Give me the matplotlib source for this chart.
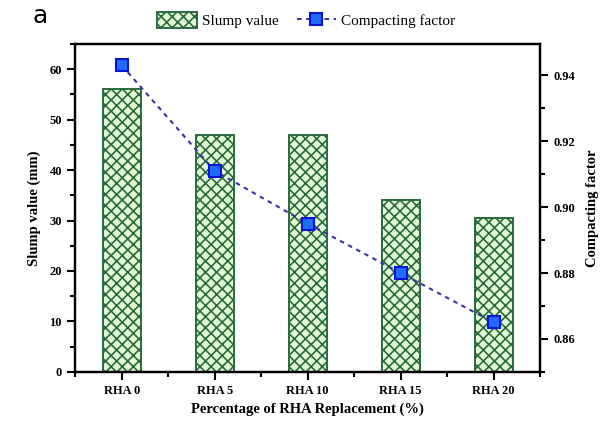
import matplotlib.pyplot as plt
import numpy as np
from matplotlib.ticker import MultipleLocator

plt.rcParams['font.family'] = ['Liberation Serif', 'DejaVu Serif']
plt.rcParams['hatch.linewidth'] = 1.2

# mix labels and measured values
mixes = ['RHA 0', 'RHA 5', 'RHA 10', 'RHA 15', 'RHA 20']
slump = [56, 47, 47, 34, 30.5]
compacting = [0.943, 0.911, 0.895, 0.880, 0.865]

x = np.arange(len(mixes))

fig = plt.figure(figsize=(6.16, 4.30), dpi=100)
ax = fig.add_axes([0.122, 0.135, 0.755, 0.763])
ax2 = ax.twinx()

plt.rcParams['hatch.color'] = '#3c8f50'
bars = ax.bar(x, slump, width=0.41, color='#e2fad2', edgecolor='#2a6a40',
              linewidth=1.4, hatch='xxx', label='Slump value', zorder=2)

line, = ax2.plot(x, compacting, linestyle=(0, (2.2, 2.2)), color='#3535a8',
                 linewidth=1.5, marker='s', markersize=9,
                 markerfacecolor='#1e6bff', markeredgecolor='#0a14d6',
                 markeredgewidth=1.5, label='Compacting factor', zorder=3)

ax.set_xlim(-0.5, 4.5)
ax.set_ylim(0, 65)
ax2.set_ylim(0.85, 0.9495)

ax.set_xticks(x)
ax.set_xticklabels(mixes, fontweight='bold', fontsize=9)
ax.xaxis.set_minor_locator(MultipleLocator(0.5))
ax.yaxis.set_major_locator(MultipleLocator(10))
ax.yaxis.set_minor_locator(MultipleLocator(5))
ax2.yaxis.set_minor_locator(MultipleLocator(0.01))
ax2.set_yticks([0.86, 0.88, 0.90, 0.92, 0.94])
ax2.set_yticklabels(['0.86', '0.88', '0.90', '0.92', '0.94'])

for a in (ax, ax2):
    a.tick_params(which='major', direction='out', length=6, width=1.5,
                  labelsize=9, colors='black')
    a.tick_params(which='minor', direction='out', length=3.5, width=1.5)
    for s in a.spines.values():
        s.set_linewidth(1.6)
for lab in ax.get_yticklabels() + ax2.get_yticklabels():
    lab.set_fontweight('bold')

ax.set_xlabel('Percentage of RHA Replacement (%)', fontweight='bold',
              fontsize=10.5, labelpad=4)
ax.set_ylabel('Slump value (mm)', fontweight='bold', fontsize=10.5, labelpad=6)
ax2.set_ylabel('Compacting factor', fontweight='bold', fontsize=10.5, labelpad=8)

fig.legend(handles=[bars, line], loc='center', bbox_to_anchor=(0.497, 0.953),
           ncol=2, frameon=False, fontsize=11, handlelength=2.6,
           handleheight=1.2, columnspacing=1.2, handletextpad=0.3)

fig.text(0.052, 0.962, 'a', fontsize=18, family='DejaVu Sans', va='center')

plt.savefig('out.png', dpi=100)
